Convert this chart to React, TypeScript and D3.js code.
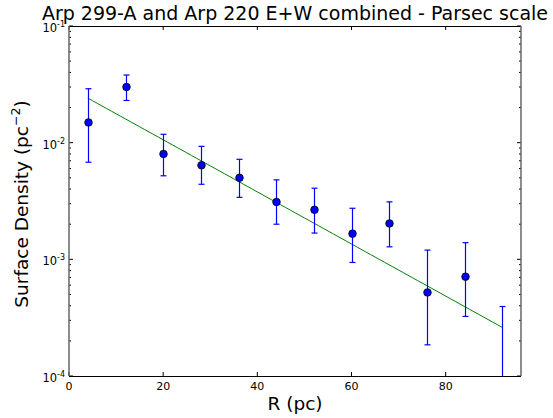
import React from "react";
import * as d3 from "d3";

const radii = [4, 12, 20, 28, 36, 44, 52, 60, 68, 76, 84, 92];
const density = [0.0149, 0.030, 0.0080, 0.0064, 0.0050, 0.0031, 0.00266, 0.00166, 0.00203, 0.00052, 0.00071, 0.00005];
const errHigh = [0.029, 0.038, 0.0118, 0.0093, 0.0072, 0.0048, 0.00407, 0.00274, 0.00311, 0.00120, 0.00139, 0.000394];
const errLow = [0.0068, 0.023, 0.0052, 0.0044, 0.0034, 0.0020, 0.00168, 0.00094, 0.00128, 0.000185, 0.000324, 0.00001];
const showPoint = [true, true, true, true, true, true, true, true, true, true, true, false];
const fitRange = [4, 92];
const fitAmplitude = 0.0296;
const fitScaleLength = 19.45;
const xTicks = [0, 20, 40, 60, 80];
const yDecades = [-4, -3, -2, -1];

const W = 553, H = 418;
const L = 69, R = 521, T = 26, B = 376;

export default function App() {
  const x = d3.scaleLinear().domain([0, 96]).range([L, R]);
  const y = d3.scaleLog().domain([1e-4, 1e-1]).range([B, T]);
  const fitXs = d3.range(fitRange[0], fitRange[1] + 0.001, 1);
  const line = d3.line<number>().x((d) => x(d)).y((d) => y(fitAmplitude * Math.exp(-d / fitScaleLength)));
  const minor: number[] = [];
  for (let e = -4; e < -1; e++) for (let m = 2; m <= 9; m++) minor.push(m * Math.pow(10, e));
  const font = "DejaVu Sans, sans-serif";
  return (
    <svg width={W} height={H} style={{ position: "absolute", left: 0, top: 0 }} fontFamily={font}>
      <rect width={W} height={H} fill="white" />
      <defs>
        <clipPath id="plot"><rect x={L} y={T} width={R - L} height={B - T} /></clipPath>
      </defs>
      <g clipPath="url(#plot)">
        <path d={line(fitXs) || ""} fill="none" stroke="#008000" strokeWidth={1} />
        {radii.map((r, i) => {
          const cx = Math.round(x(r)) + 0.5;
          const yt = y(errHigh[i]);
          const yb = y(errLow[i]);
          return (
            <g key={i} stroke="#0000ff" strokeWidth={1.2}>
              <line x1={cx} x2={cx} y1={yt} y2={yb} />
              <line x1={cx - 3} x2={cx + 3} y1={yt} y2={yt} />
              <line x1={cx - 3} x2={cx + 3} y1={yb} y2={yb} />
            </g>
          );
        })}
        {radii.map((r, i) => showPoint[i] ? (
          <circle key={i} cx={Math.round(x(r)) + 0.5} cy={y(density[i])} r={3.8} fill="#0000ff" stroke="#000" strokeWidth={0.8} />
        ) : null)}
      </g>
      {xTicks.map((t) => (
        <g key={t}>
          <line x1={x(t)} x2={x(t)} y1={B} y2={B - 4} stroke="#000" />
          <line x1={x(t)} x2={x(t)} y1={T} y2={T + 4} stroke="#000" />
          <text x={x(t)} y={390} fontSize={11} textAnchor="middle" fill="#000">{t}</text>
        </g>
      ))}
      {minor.map((v, i) => (
        <g key={i}>
          <line x1={L} x2={L + 2} y1={y(v)} y2={y(v)} stroke="#000" />
          <line x1={R} x2={R - 2} y1={y(v)} y2={y(v)} stroke="#000" />
        </g>
      ))}
      {yDecades.map((e) => (
        <g key={e}>
          <line x1={L} x2={L + 4} y1={y(Math.pow(10, e))} y2={y(Math.pow(10, e))} stroke="#000" />
          <line x1={R} x2={R - 4} y1={y(Math.pow(10, e))} y2={y(Math.pow(10, e))} stroke="#000" />
          <text x={L - 4} y={y(Math.pow(10, e)) + 6} fontSize={11.5} textAnchor="end" fill="#000">
            10<tspan dy={-5} fontSize={8}>{"-" + Math.abs(e)}</tspan>
          </text>
        </g>
      ))}
      <line x1={L} x2={R} y1={T + 0.5} y2={T + 0.5} stroke="#000" />
      <line x1={L} x2={R} y1={B + 0.5} y2={B + 0.5} stroke="#000" />
      <line x1={L} x2={L} y1={T} y2={B} stroke="#666" strokeWidth={1.5} />
      <line x1={R} x2={R} y1={T} y2={B} stroke="#666" strokeWidth={1.5} />
      <text x={(L + R) / 2} y={20} fontSize={19} textAnchor="middle" fill="#000">Arp 299-A and Arp 220 E+W combined - Parsec scale</text>
      <text x={(L + R) / 2} y={410} fontSize={18.5} textAnchor="middle" fill="#000">R (pc)</text>
      <text transform={`translate(28, ${(T + B) / 2 + 3}) rotate(-90)`} fontSize={18.5} textAnchor="middle" fill="#000">
        Surface Density (pc<tspan dy={-8} fontSize={12.5}>−2</tspan><tspan dy={8}>)</tspan>
      </text>
    </svg>
  );
}
